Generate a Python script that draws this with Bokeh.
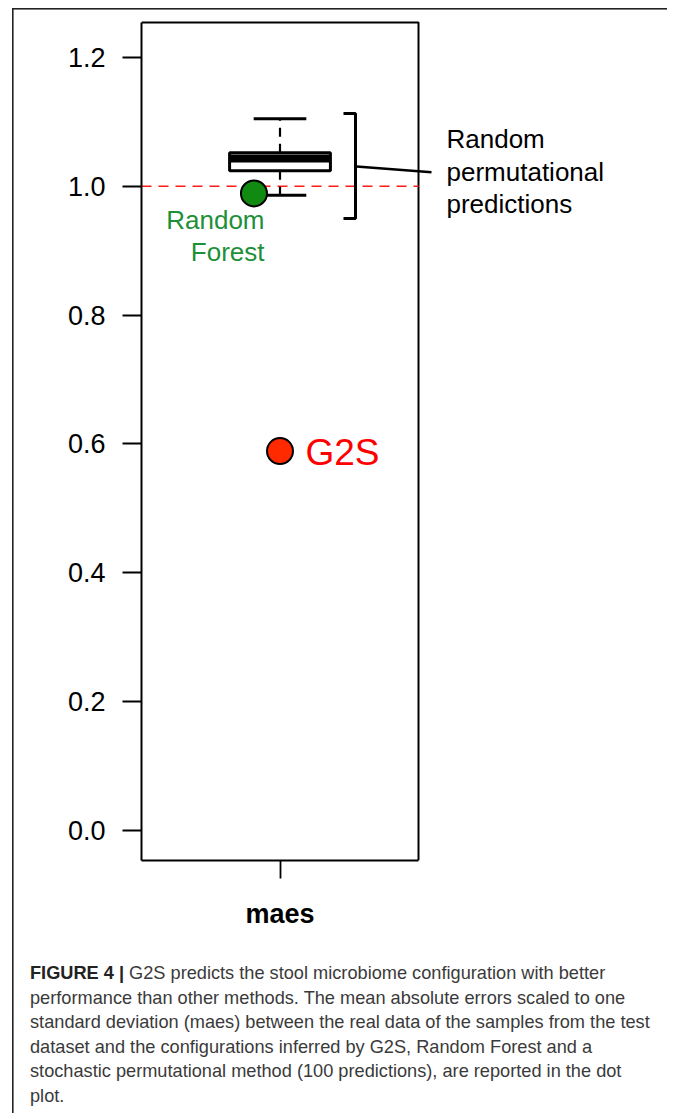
from bokeh.plotting import figure
from bokeh.models import Label, FixedTicker, Range1d, Div
from bokeh.layouts import column
from bokeh.embed import file_html
from bokeh.resources import INLINE

# ---------------- data ----------------
categories = ["maes"]
category_pos = [1.0]
perm_lower = [0.986]     # lower whisker of random permutational predictions
perm_q1 = [1.024]
perm_median = [1.043]
perm_q3 = [1.052]
perm_upper = [1.105]     # upper whisker
g2s_value = [0.589]
rf_value = [0.989]
reference_value = [1.0]
y_ticks = [0.0, 0.2, 0.4, 0.6, 0.8, 1.0, 1.2]
y_tick_labels = ["0.0", "0.2", "0.4", "0.6", "0.8", "1.0", "1.2"]

caption_bold = "FIGURE 4 |"
caption_lines = [
    "G2S predicts the stool microbiome configuration with better",
    "performance than other methods. The mean absolute errors scaled to one",
    "standard deviation (maes) between the real data of the samples from the test",
    "dataset and the configurations inferred by G2S, Random Forest and a",
    "stochastic permutational method (100 predictions), are reported in the dot",
    "plot.",
]

# ---------------- geometry helpers (annotation placement) ----------------
PX_PER_X = 277.0
PX_PER_Y = 644.2
X0_PX = 279.5   # canvas px of x = 1
Y0_PX = 830.0   # canvas px of y = 0


def px2x(px):
    return 1.0 + (px - X0_PX) / PX_PER_X


def py2y(py):
    return (Y0_PX - py) / PX_PER_Y


W = 657
FIG_H = 940
CAP_H = 163
BOX_L, BOX_R = 0.5, 1.5
BOX_B, BOX_T = py2y(860), py2y(22)

p = figure(width=W, height=FIG_H, output_backend="svg", toolbar_location=None,
           x_range=Range1d(px2x(141), px2x(W)), y_range=Range1d(py2y(860), py2y(0)),
           min_border_left=141, min_border_right=0, min_border_top=0,
           min_border_bottom=FIG_H - 860)
p.background_fill_alpha = 0
p.border_fill_alpha = 0
p.grid.visible = False
p.outline_line_color = None

AX_FONT = "Liberation Sans"

# y axis (its line is the left side of the plot box)
p.yaxis.ticker = FixedTicker(ticks=y_ticks)
p.yaxis.major_label_overrides = {t: l for t, l in zip(y_ticks, y_tick_labels)}
p.yaxis.bounds = (BOX_B, BOX_T)
p.yaxis.axis_line_width = 2
p.yaxis.axis_line_color = "black"
p.yaxis.minor_tick_line_color = None
p.yaxis.major_tick_in = 0
p.yaxis.major_tick_out = 19
p.yaxis.major_tick_line_width = 1.8
p.yaxis.major_tick_line_color = "black"
p.yaxis.major_label_standoff = 17
p.yaxis.major_label_text_font = AX_FONT
p.yaxis.major_label_text_font_size = "27px"
p.yaxis.major_label_text_color = "black"

# x axis (its line is the bottom side of the plot box)
p.xaxis.ticker = FixedTicker(ticks=category_pos)
p.xaxis.major_label_overrides = {c: n for c, n in zip(category_pos, categories)}
p.xaxis.bounds = (BOX_L, BOX_R)
p.xaxis.axis_line_width = 2
p.xaxis.axis_line_color = "black"
p.xaxis.minor_tick_line_color = None
p.xaxis.major_tick_in = 0
p.xaxis.major_tick_out = 18
p.xaxis.major_tick_line_width = 1.8
p.xaxis.major_tick_line_color = "black"
p.xaxis.major_label_standoff = 20
p.xaxis.major_label_text_font = AX_FONT
p.xaxis.major_label_text_font_style = "bold"
p.xaxis.major_label_text_font_size = "27px"
p.xaxis.major_label_text_color = "black"

# top and right sides of the plot box
p.line(x=[BOX_L, BOX_R, BOX_R], y=[BOX_T, BOX_T, BOX_B], line_color="black",
       line_width=2)

# reference line at 1.0
p.segment(x0=[BOX_L], x1=[BOX_R], y0=reference_value, y1=reference_value,
          line_color="#ff1a1a", line_width=1.6, line_dash="10 7")

# boxplot of permutational predictions
BOX_HW = 0.182
CAP_HW = 0.095
bx = category_pos
p.segment(x0=bx, y0=perm_q3, x1=bx, y1=perm_upper, line_color="black",
          line_width=2.2, line_dash="9 7")
p.segment(x0=bx, y0=perm_q1, x1=bx, y1=perm_lower, line_color="black",
          line_width=2.2, line_dash="9 7")
p.segment(x0=[x - CAP_HW for x in bx], x1=[x + CAP_HW for x in bx],
          y0=perm_upper, y1=perm_upper, line_color="black", line_width=3)
p.segment(x0=[x - CAP_HW for x in bx], x1=[x + CAP_HW for x in bx],
          y0=perm_lower, y1=perm_lower, line_color="black", line_width=3)
p.quad(left=[x - BOX_HW for x in bx], right=[x + BOX_HW for x in bx],
       bottom=perm_q1, top=perm_q3, fill_color="white", line_color="black",
       line_width=3)
p.segment(x0=[x - BOX_HW for x in bx], x1=[x + BOX_HW for x in bx],
          y0=perm_median, y1=perm_median, line_color="black", line_width=8,
          line_cap="butt")

# points
RF_SHIFT = -0.094
p.scatter(x=[x + RF_SHIFT for x in bx], y=rf_value, size=26,
          fill_color="#108a10", line_color="black", line_width=2)
p.scatter(x=bx, y=g2s_value, size=26, fill_color="#ff2a00",
          line_color="black", line_width=2)

# bracket around permutational predictions + connector
bxx, bsx = px2x(355), px2x(343)
btop, bbot = py2y(113), py2y(218)
p.line(x=[bsx, bxx, bxx, bsx], y=[btop, btop, bbot, bbot], line_color="black",
       line_width=3)
p.line(x=[px2x(356), px2x(431)], y=[py2y(166), py2y(171.7)], line_color="black",
       line_width=2.6)

# annotation texts (y = visual centre of the capitals)
for txt, py in zip(["Random", "permutational", "predictions"], [138.0, 171.0, 203.5]):
    p.add_layout(Label(x=px2x(446), y=py2y(py), text=txt, text_font=AX_FONT,
                       text_font_size="26px", text_color="black",
                       text_align="left", text_baseline="alphabetic"))
for txt, py in zip(["Random", "Forest"], [219.0, 251.0]):
    p.add_layout(Label(x=px2x(264), y=py2y(py), text=txt, text_font=AX_FONT,
                       text_font_size="26px", text_color="#1e9038",
                       text_align="right", text_baseline="alphabetic"))
p.add_layout(Label(x=px2x(305), y=py2y(451.5), text="G2S", text_font=AX_FONT,
                   text_font_size="37px", text_color="#ff0000",
                   text_align="left", text_baseline="alphabetic"))

# caption
cap_html = (
    '<div style="font-family:\'Liberation Sans\',Arial,sans-serif;font-size:18.2px;'
    'line-height:24.6px;color:#3a3a3a;white-space:nowrap;padding-left:25px;'
    'padding-top:16px;">'
    '<span style="font-weight:bold;color:#222222;">' + caption_bold + '</span> '
    + "<br>".join(caption_lines) + "</div>"
)
cap = Div(text=cap_html, width=W, height=CAP_H,
          styles={"overflow": "visible"})

border_bg = ("linear-gradient(#222222,#222222) 12px 8px / 1.6px 2000px no-repeat, "
             "linear-gradient(#222222,#222222) 12px 8px / 800px 1.6px no-repeat, "
             "#ffffff")
layout = column(p, cap, spacing=0, styles={"background": border_bg})

open("out.html", "w").write(file_html(layout, INLINE))
